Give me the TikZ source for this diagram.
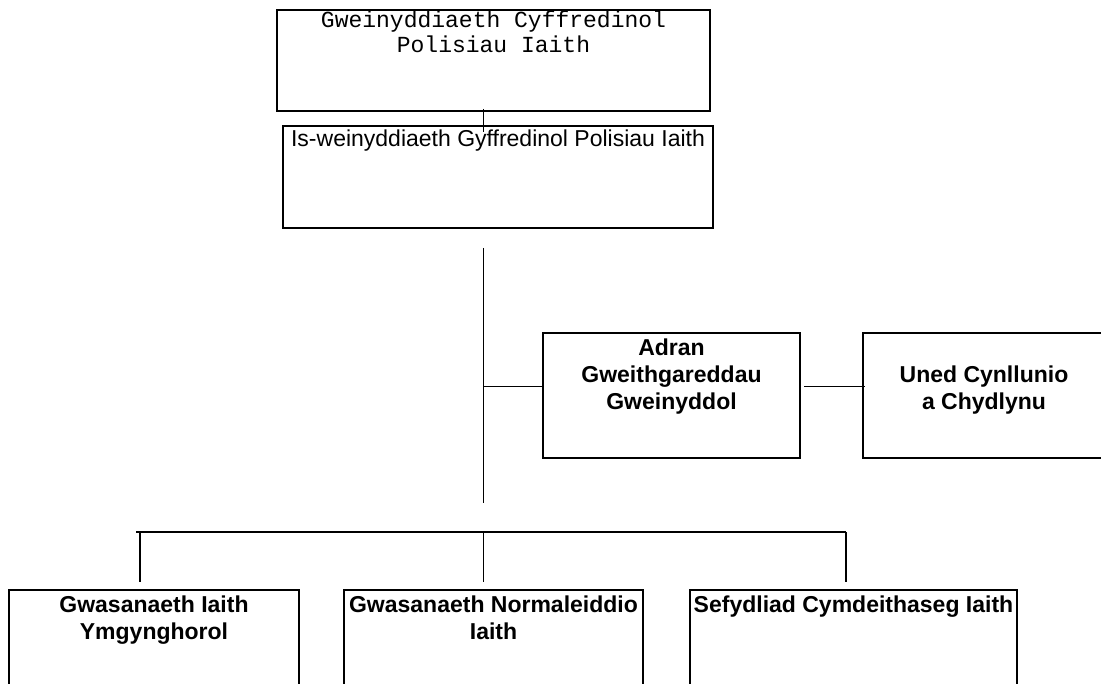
\documentclass[tikz,border=0pt]{standalone}
\usepackage{fontspec}
\setmainfont{Liberation Sans}
\newfontfamily\typewriter{Liberation Mono}
\usetikzlibrary{positioning}
\usetikzlibrary{calc}
\tikzset{unit/.style={draw,line width=2pt,inner sep=0pt}}
\tikzset{link/.style={line width=1.4pt}}
\tikzset{lbl/.style={inner sep=0pt,align=center,anchor=base,font=\fontsize{23}{27}\selectfont\bfseries}}

\begin{document}
\begin{tikzpicture}[x=1pt,y=-1pt]
\clip (0,0) rectangle (1101,684);
% top of the chart (label anchors sit on the last line)
\node[unit,minimum width=433pt,minimum height=101pt] (gcp) at (493.5,60.5) {};
\node[lbl,font=\fontsize{23}{25}\selectfont\typewriter] (gcp-t) at ($(gcp.north)+(0,44)$) {Gweinyddiaeth Cyffredinol\\Polisiau Iaith};
\node[unit,minimum width=430pt,minimum height=102pt] (isw) at (498,177) {};
\node[lbl,font=\fontsize{23}{27}\selectfont] (isw-t) at ($(isw.north)+(0,22)$) {Is-weinyddiaeth Gyffredinol Polisiau Iaith};

\coordinate (trunk-top) at (483.5,248);
\coordinate (trunk-bot) at (483.5,503);
\coordinate (fork) at (483.5,386.5);

\draw[link] ($(gcp.south -| trunk-top)+(0,-3)$) -- ($(isw.north -| trunk-top)+(0,7)$);
\draw[link] (trunk-top) -- (trunk-bot);

% side units
\node[unit,minimum width=257pt,minimum height=125pt] (adran) at (671.5,395.5) {};
\node[unit,minimum width=242pt,minimum height=125pt,right=61pt of adran] (uned) {};
\node[lbl] (adran-t) at ($(adran.north)+(0,78)$) {Adran\\Gweithgareddau\\Gweinyddol};
\node[lbl] (uned-t) at ($(uned.north)+(0,78)$) {Uned Cynllunio\\a Chydlynu};

\draw[link] (fork) -- (fork -| adran.west);
\draw[link] ($(fork -| adran.east)+(3,0)$) -- ($(fork -| uned.west)+(3,0)$);

% lower units
\node[unit,minimum width=290pt,minimum height=110pt] (gwi) at (154,645) {};
\node[unit,minimum width=299pt,minimum height=110pt] (gni) at (493.5,645) {};
\node[unit,minimum width=327pt,minimum height=110pt] (sci) at (853.5,645) {};
\node[lbl] (gwi-t) at ($(gwi.north)+(0,50)$) {Gwasanaeth Iaith\\Ymgynghorol};
\node[lbl] (gni-t) at ($(gni.north)+(0,50)$) {Gwasanaeth Normaleiddio\\Iaith};
\node[lbl] (sci-t) at ($(sci.north)+(0,23)$) {Sefydliad Cymdeithaseg Iaith};

\coordinate (bus-l) at (136,532);
\coordinate (bus-r) at (846,532);
\draw[link] (bus-l) -- (bus-r);
\foreach \x/\b in {140/gwi,483.5/gni,846/sci}
  \draw[link] (\x,532) -- ($(\x,532 |- \b.north)+(0,-7)$);
\end{tikzpicture}
\end{document}
